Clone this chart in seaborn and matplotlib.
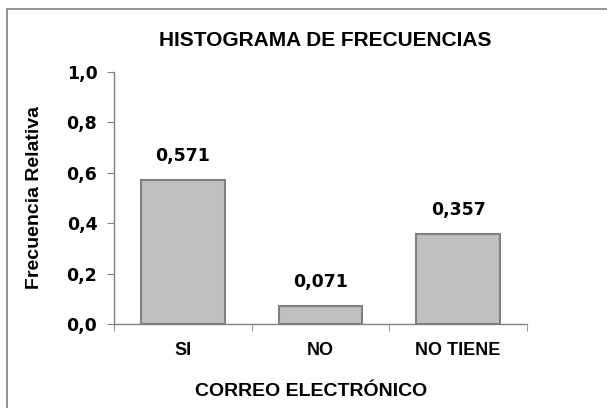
import matplotlib
matplotlib.use("Agg")
import matplotlib.pyplot as plt
import matplotlib.patches as mpatches
from matplotlib.ticker import FuncFormatter
import seaborn as sns
import pandas as pd

# data
categorias = ['SI', 'NO', 'NO TIENE']
frecuencias = [0.571, 0.071, 0.357]
etiquetas = ['0,571', '0,071', '0,357']

sns.set_style('white')
plt.rcParams['font.family'] = ['Liberation Sans', 'DejaVu Sans']
plt.rcParams['font.weight'] = 'bold'
plt.rcParams['text.color'] = 'black'
plt.rcParams['axes.labelcolor'] = 'black'
plt.rcParams['xtick.labelcolor'] = 'black'
plt.rcParams['ytick.labelcolor'] = 'black'
num_font = ['DejaVu Sans']

df = pd.DataFrame({'cat': categorias, 'frec': frecuencias})

fig = plt.figure(figsize=(6.07, 4.08), dpi=100)
ax = fig.add_axes([114 / 607, 1 - 324 / 408, 413 / 607, 252 / 408])

sns.barplot(data=df, x='cat', y='frec', color='#c0c0c0', edgecolor='#808080',
            linewidth=1.5, width=0.61, saturation=1, ax=ax)

for i, (v, t) in enumerate(zip(frecuencias, etiquetas)):
    ax.text(i, v + 0.097, t, ha='center', va='center', fontsize=12.5,
            fontweight='bold', family=num_font, color='black')

ax.set_ylim(0, 1.0)
ax.set_xlim(-0.5, 2.5)
ax.set_yticks([0, 0.2, 0.4, 0.6, 0.8, 1.0])
ax.yaxis.set_major_formatter(FuncFormatter(lambda v, p: f'{v:.1f}'.replace('.', ',')))
ax.tick_params(axis='y', labelsize=12.5, length=5, color='#808080', labelcolor='black',
               direction='out', left=True, pad=7)
for lab in ax.get_yticklabels():
    lab.set_family(num_font)
    lab.set_fontweight('bold')
ax.tick_params(axis='x', labelsize=13, length=0, pad=13, labelcolor='black')
ax.set_xticks([0, 1, 2])
ax.set_xticklabels(categorias, fontweight='bold')
ax.set_xticks([-0.5, 0.5, 1.5, 2.5], minor=True)
ax.tick_params(axis='x', which='minor', length=5, color='#808080', bottom=True)

for s in ['top', 'right']:
    ax.spines[s].set_visible(False)
for s in ['left', 'bottom']:
    ax.spines[s].set_color('#808080')
    ax.spines[s].set_linewidth(1)

ax.set_xlabel('CORREO ELECTRÓNICO', fontsize=14, fontweight='bold', color='black')
ax.xaxis.set_label_coords(0.477, -0.234)
ax.set_ylabel('Frecuencia Relativa', fontsize=14, fontweight='bold', color='black')
ax.yaxis.set_label_coords(-0.172, 0.5)
fig.text(325 / 607, 1 - 40 / 408, 'HISTOGRAMA DE FRECUENCIAS', ha='center', va='center',
         fontsize=15, fontweight='bold', color='black')

fig.patches.append(mpatches.Rectangle((7 / 607, -0.1), 1.0, 1 - 9 / 408 + 0.1,
                                      transform=fig.transFigure, fill=False,
                                      edgecolor='#808080', linewidth=1.2))

fig.savefig('out.png', dpi=100)
